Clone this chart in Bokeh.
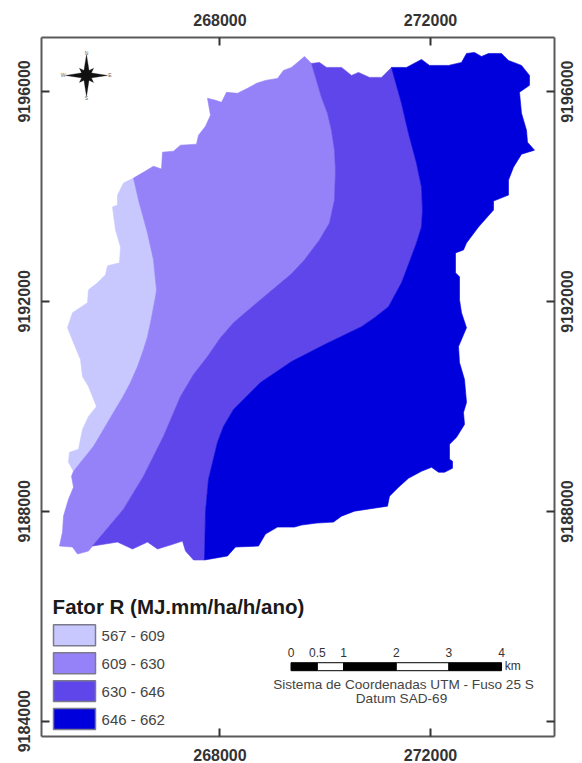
import math
from bokeh.plotting import figure
from bokeh.embed import file_html
from bokeh.resources import INLINE
from bokeh.models import LinearAxis, FixedTicker, NumeralTickFormatter, Range1d
from bokeh.core.properties import value

# Map data: UTM east / north
top_a_e = [266357,266585,266737,266889,266908,267117,267250,267554,267592,267725,267820,267763,267915,268029,268124,268333,268523,268694,268865,269093,269207,269359,269606,269739]
top_a_n = [9194348,9194481,9194576,9194519,9194842,9194861,9194975,9194994,9195165,9195336,9195545,9195868,9195830,9195792,9195982,9195963,9196058,9196153,9196210,9196248,9196400,9196457,9196666,9196533]
top_b_e = [269891,270024,270309,270499,270632,270841,271069,271259]
top_b_n = [9196552,9196457,9196457,9196305,9196362,9196267,9196267,9196457]
east_e = [271544,271829,271981,272342,272589,272684,272836,272969,273102,273349,273482,273729,273881,273881,273691,273729,273824,273843,273976,273729,273577,273482,273482,273197,273197,272912,272684,272627,272475,272475,272551,272551,272589,272684,272532,272551,272646,272684,272627,272646,272494,272361,272361,272418,272418,272266,272152,272019,271829,271582,271392,271221,271183,270556,270309,270157,269834,269549,269416,269093,268865,268732,268295,268143,267706]
east_n = [9196457,9196609,9196495,9196495,9196552,9196723,9196742,9196666,9196723,9196723,9196590,9196495,9196305,9196115,9195982,9195583,9195260,9195032,9194880,9194804,9194557,9194310,9194025,9193911,9193740,9193417,9193113,9192980,9192923,9192543,9192467,9192030,9191783,9191498,9191137,9190833,9190510,9190073,9189883,9189655,9189408,9189275,9188990,9188952,9188819,9188743,9188743,9188838,9188762,9188629,9188458,9188287,9188097,9188002,9187907,9187793,9187774,9187736,9187698,9187698,9187565,9187337,9187318,9187147,9187071]
bottom_e = [267497,267345,267288,267117,266813,266623,266338,266053,265578]
bottom_n = [9187071,9187242,9187432,9187375,9187280,9187413,9187280,9187413,9187337]
sw_e = [265502,265293,265198,264951,265008,265027,265122,265217,265179,265217]
sw_n = [9187242,9187185,9187318,9187337,9187603,9187907,9188230,9188458,9188667,9188762]
west_e = [265122,265141,265312,265388,265502,265654,265502,265388,265350,265217,265103,265198,265483,265502,265673,265825,265863,266091,266110,266015,265958,266053,266053,266167,266357]
west_n = [9188933,9189123,9189180,9189560,9189807,9189997,9190377,9190567,9190890,9191213,9191498,9191783,9191973,9192220,9192353,9192505,9192676,9192733,9193037,9193360,9193797,9193835,9194025,9194253,9194348]
bound1_e = [266357,266452,266623,266737,266794,266775,266680,266623,266547,266433,266300,266148,265977,265787,265597,265217]
bound1_n = [9194348,9193930,9193303,9192790,9192220,9192087,9191593,9191327,9191080,9190757,9190453,9190168,9189883,9189560,9189237,9188762]
bound2_e = [269739,269929,270043,270119,270176,270195,270176,270081,269891,269606,269359,268770,268257,268010,267763,267497,267250,266927,266547,266167,265578]
bound2_n = [9196533,9195887,9195583,9195260,9194880,9194500,9193930,9193493,9193170,9192790,9192524,9192030,9191593,9191308,9190947,9190605,9190187,9189427,9188667,9188040,9187337]
bound3_e = [271259,271449,271582,271734,271829,271848,271829,271734,271544,271449,271202,270936,270689,269986,269359,268770,268257,268067,267953,267782,267725,267706]
bound3_n = [9196457,9195773,9195203,9194633,9194177,9193740,9193417,9193113,9192600,9192353,9191897,9191688,9191517,9191175,9190852,9190453,9189940,9189617,9189313,9188610,9187983,9187071]

classes = ["567 - 609", "609 - 630", "630 - 646", "646 - 662"]
colors = ["#C8C8FF", "#9682F8", "#5F46EB", "#0000DC"]
legend_title = "Fator R (MJ.mm/ha/h/ano)"
x_ticks = [268000, 272000]
y_ticks = [9184000, 9188000, 9192000, 9196000]
scale_km = [0, 0.5, 1, 2, 3, 4]
scale_labels = ["0", "0.5", "1", "2", "3", "4"]
crs_lines = ["Sistema de Coordenadas UTM - Fuso 25 S", "Datum SAD-69"]

FONT = "Liberation Sans"
y_start, y_end = 9183708, 9197027
p = figure(width=582, height=763, output_backend="svg", toolbar_location=None,
           x_range=Range1d(264609, 274356), y_range=Range1d(y_start, y_end),
           min_border_left=41, min_border_right=28, min_border_top=37, min_border_bottom=25,
           x_axis_location=None, y_axis_location=None)
p.xgrid.visible = False
p.ygrid.visible = False
p.outline_line_color = None
p.background_fill_color = "white"

# Classes
c1x = west_e + bound1_e
c1y = west_n + bound1_n
c2x = top_a_e + bound2_e + sw_e + bound1_e[::-1]
c2y = top_a_n + bound2_n + sw_n + bound1_n[::-1]
c3x = top_b_e + bound3_e + bottom_e + bound2_e[::-1]
c3y = top_b_n + bound3_n + bottom_n + bound2_n[::-1]
c4x = east_e + bound3_e[::-1]
c4y = east_n + bound3_n[::-1]
p.patches([c1x, c2x, c3x, c4x], [c1y, c2y, c3y, c4y], fill_color=colors, line_color=colors, line_width=0.6)

# Axes with inward ticks on all four sides
def style(ax, ticks):
    ax.ticker = FixedTicker(ticks=ticks)
    ax.formatter = NumeralTickFormatter(format="0")
    ax.axis_line_color = "#5A5A5A"
    ax.axis_line_width = 2
    ax.major_tick_line_color = "#333333"
    ax.major_tick_line_width = 2
    ax.major_tick_in = 8
    ax.major_tick_out = 0
    ax.minor_tick_in = 0
    ax.minor_tick_out = 0
    ax.major_label_text_font = FONT
    ax.major_label_text_font_style = "bold"
    ax.major_label_text_font_size = "16px"
    ax.major_label_text_color = "#333333"

ax = LinearAxis(); style(ax, x_ticks); ax.major_label_standoff = 12; p.add_layout(ax, "below")
ax = LinearAxis(); style(ax, x_ticks); ax.major_label_standoff = 12; p.add_layout(ax, "above")
ax = LinearAxis(); style(ax, y_ticks); ax.major_label_standoff = 11; ax.major_label_orientation = "parallel"; p.add_layout(ax, "left")
# Right side: one axis for line and ticks, one for the labels, which read upwards
ax = LinearAxis(); style(ax, y_ticks); ax.major_label_text_font_size = "1px"; ax.major_label_text_color = None; ax.major_label_standoff = 0; p.add_layout(ax, "right")
label_shift = 598
p.extra_y_ranges = {"labels": Range1d(y_start + label_shift, y_end + label_shift)}
ax = LinearAxis(y_range_name="labels"); style(ax, y_ticks)
ax.axis_line_color = None; ax.major_tick_line_color = None; ax.major_tick_in = 0
ax.major_label_orientation = math.pi / 2; ax.major_label_standoff = 13
ax.major_label_text_line_height = 0.5
p.add_layout(ax, "right")

# North arrow
ce, cn = 265464, 9196305
arm_e, arm_n = [], []
for i in range(8):
    a = i * math.pi / 4
    long_arm = 400 if i % 2 == 0 else 190
    w = 60
    ux, uy = math.cos(a), math.sin(a)
    arm_e.append([ce + w * -uy + w * ux * 0.3, ce + long_arm * ux, ce + w * uy + w * ux * 0.3, ce])
    arm_n.append([cn + w * ux + w * uy * 0.3, cn + long_arm * uy, cn - w * ux + w * uy * 0.3, cn])
p.patches(arm_e, arm_n, fill_color="#111111", line_color="#111111", line_width=0.3)
p.text([ce, ce, ce + 445, ce - 445], [cn + 430, cn - 440, cn, cn], text=["N", "S", "E", "W"],
       text_font=value(FONT), text_font_size="5px", text_color="#666666",
       text_align="center", text_baseline="middle")

# Legend
sw_top = [9185836, 9185304, 9184772, 9184240]
sw_bot = [9185437, 9184905, 9184373, 9183841]
p.quad(left=[264837] * 4, right=[265635] * 4, top=sw_top, bottom=sw_bot,
       fill_color=colors, line_color="#7A7A8C", line_width=1.5)
p.text([264820], [9186180], text=[legend_title], text_font=value(FONT), text_font_style="bold",
       text_font_size="20.5px", text_color="#1A1A1A", text_align="left", text_baseline="middle")
p.text([265750] * 4, [9185627, 9185095, 9184573, 9184041], text=classes, text_font=value(FONT),
       text_font_size="15px", text_color="#444444", text_align="left", text_baseline="middle")

# Scale bar
x0 = 269350
bar_top, bar_bot = 9185114, 9184962
edges = [x0 + k * 1000 for k in scale_km]
p.quad(left=edges[:-1], right=edges[1:], top=[bar_top] * 5, bottom=[bar_bot] * 5,
       fill_color=["black", "white", "black", "white", "black"], line_color="black", line_width=1)
p.text(edges, [9185304] * 6, text=scale_labels, text_font=value(FONT), text_font_size="12px",
       text_color="#333333", text_align="center", text_baseline="middle")
p.text([edges[-1] + 60], [9185057], text=["km"], text_font=value(FONT), text_font_size="12px",
       text_color="#333333", text_align="left", text_baseline="middle")
p.text([271487, 271449], [9184696, 9184430], text=crs_lines, text_font=value(FONT), text_font_size="13.6px",
       text_color="#444444", text_align="center", text_baseline="middle")

open("out.html", "w").write(file_html(p, INLINE))
